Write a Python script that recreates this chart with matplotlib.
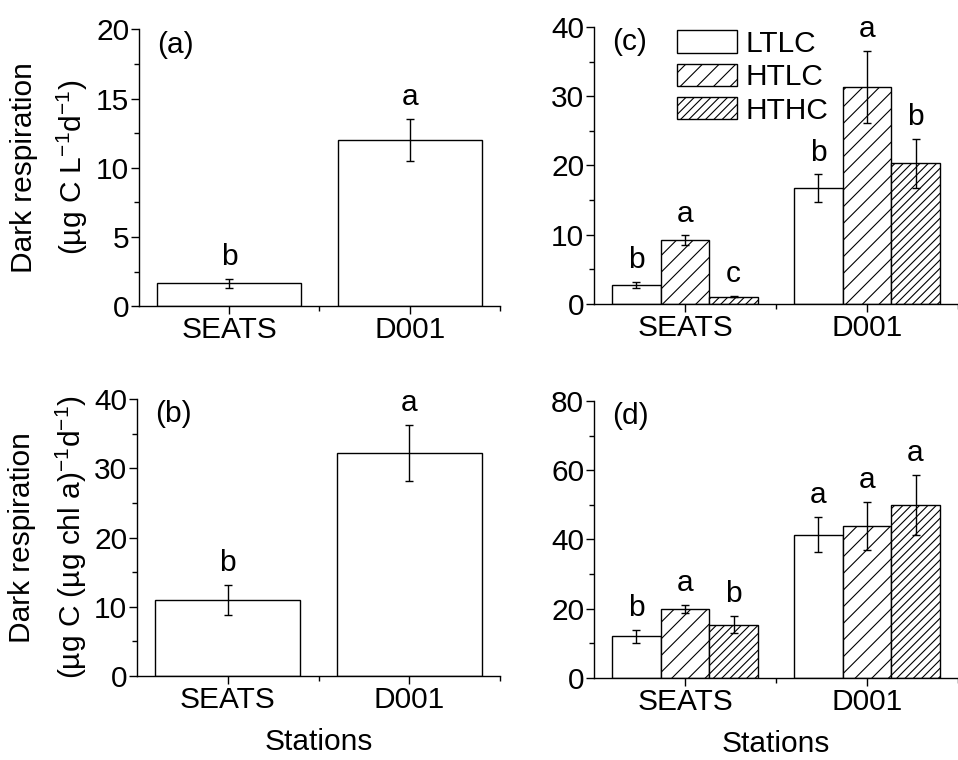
#!/usr/bin/env python3
"""
暗呼吸速率柱状图 (a)-(d) 四个子图
"""

import numpy as np
import matplotlib
matplotlib.use("Agg")
import matplotlib.pyplot as plt
from matplotlib.ticker import MultipleLocator, FixedLocator

# ========== 数据 ==========
stations = ["SEATS", "D001"]
treatments = ["LTLC", "HTLC", "HTHC"]

# (a) 单位体积
vol_mean = [1.65, 12.0]
vol_err = [0.33, 1.5]
vol_sig = ["b", "a"]

# (b) 单位叶绿素
chl_mean = [11.0, 32.2]
chl_err = [2.15, 4.1]
chl_sig = ["b", "a"]

# (c) 处理组, 单位体积 (行: 处理, 列: 站位)
trt_vol_mean = [[2.74, 16.7], [9.2, 31.4], [1.06, 20.3]]
trt_vol_err = [[0.4, 2.0], [0.7, 5.2], [0.1, 3.5]]
trt_vol_sig = [["b", "b"], ["a", "a"], ["c", "b"]]

# (d) 处理组, 单位叶绿素
trt_chl_mean = [[12.0, 41.4], [19.9, 43.8], [15.4, 49.9]]
trt_chl_err = [[1.8, 5.0], [1.1, 7.0], [2.4, 8.6]]
trt_chl_sig = [["b", "a"], ["a", "a"], ["b", "a"]]

hatches = ["", "//", "////"]

FS = 21.5
plt.rcParams["font.family"] = ["Liberation Sans", "DejaVu Sans"]
plt.rcParams["mathtext.fontset"] = "custom"
plt.rcParams["mathtext.rm"] = "Liberation Sans"
plt.rcParams["mathtext.default"] = "regular"
plt.rcParams["hatch.linewidth"] = 0.8
plt.rcParams["font.size"] = FS


def style_axes(ax, ymax, ystep):
    ax.spines["top"].set_visible(False)
    ax.spines["right"].set_visible(False)
    ax.set_xlim(0.5, 2.5)
    ax.set_ylim(0, ymax)
    ax.set_xticks([1, 2])
    ax.set_xticklabels(stations)
    ax.xaxis.set_minor_locator(FixedLocator([1.5, 2.5]))
    ax.yaxis.set_major_locator(MultipleLocator(ystep))
    ax.yaxis.set_minor_locator(MultipleLocator(ystep / 2))
    ax.tick_params(which="major", direction="out", length=6, width=1,
                   labelsize=FS, pad=1)
    ax.tick_params(which="minor", direction="out", length=3.5, width=1)
    for s in ax.spines.values():
        s.set_linewidth(1.0)


def label_sig(ax, x, top, s):
    ax.annotate(s, (x, top), xytext=(0, 10), textcoords="offset points",
                ha="center", va="baseline", fontsize=FS)


def plot_single(ax, mean, err, sig, ymax, ystep, tag):
    x = np.arange(1, len(stations) + 1)
    ax.bar(x, mean, width=0.8, color="white", edgecolor="black", linewidth=1.0)
    ax.errorbar(x, mean, yerr=err, fmt="none", ecolor="black",
                elinewidth=1.0, capsize=3, capthick=1.0)
    for xi, m, e, s in zip(x, mean, err, sig):
        label_sig(ax, xi, m + e, s)
    style_axes(ax, ymax, ystep)
    ax.text(0.05, 0.995, tag, transform=ax.transAxes, ha="left", va="top",
            fontsize=FS)


def plot_group(ax, mean, err, sig, ymax, ystep, tag, legend=False):
    x = np.arange(1, len(stations) + 1)
    w = 0.8 / len(treatments)
    for i, name in enumerate(treatments):
        xi = x + (i - 1) * w
        ax.bar(xi, mean[i], width=w, color="white", edgecolor="black",
               hatch=hatches[i], linewidth=1.0, label=name)
        ax.errorbar(xi, mean[i], yerr=err[i], fmt="none", ecolor="black",
                    elinewidth=1.0, capsize=3, capthick=1.0)
        for xx, m, e, s in zip(xi, mean[i], err[i], sig[i]):
            label_sig(ax, xx, m + e, s)
    style_axes(ax, ymax, ystep)
    ax.text(0.05, 0.995, tag, transform=ax.transAxes, ha="left", va="top",
            fontsize=FS)
    if legend:
        ax.legend(loc="upper left", bbox_to_anchor=(0.228, 0.99), frameon=False,
                  fontsize=FS, handlelength=2.0, handleheight=0.78,
                  labelspacing=0.18, handletextpad=0.3, borderpad=0.0,
                  borderaxespad=0.0)


fig = plt.figure(figsize=(9.58, 7.6), dpi=100)
ax_a = fig.add_axes([0.145, 0.597, 0.377, 0.3645])
ax_c = fig.add_axes([0.620, 0.600, 0.380, 0.3645])
ax_b = fig.add_axes([0.143, 0.1105, 0.379, 0.3645])
ax_d = fig.add_axes([0.620, 0.108, 0.380, 0.3645])

plot_single(ax_a, vol_mean, vol_err, vol_sig, 20, 5, "(a)")
plot_single(ax_b, chl_mean, chl_err, chl_sig, 40, 10, "(b)")
plot_group(ax_c, trt_vol_mean, trt_vol_err, trt_vol_sig, 40, 10, "(c)", legend=True)
plot_group(ax_d, trt_chl_mean, trt_chl_err, trt_chl_sig, 80, 20, "(d)")

ax_a.set_ylabel("Dark respiration\n(µg C L$^{-1}$d$^{-1}$)", fontsize=FS,
                linespacing=1.65, labelpad=4)
ax_b.set_ylabel("Dark respiration\n(µg C (µg chl a)$^{-1}$d$^{-1}$)", fontsize=FS,
                linespacing=1.65, labelpad=4)
ax_b.set_xlabel("Stations", fontsize=FS, labelpad=10)
ax_d.set_xlabel("Stations", fontsize=FS, labelpad=10)

fig.savefig("out.png", dpi=100)
plt.close(fig)
